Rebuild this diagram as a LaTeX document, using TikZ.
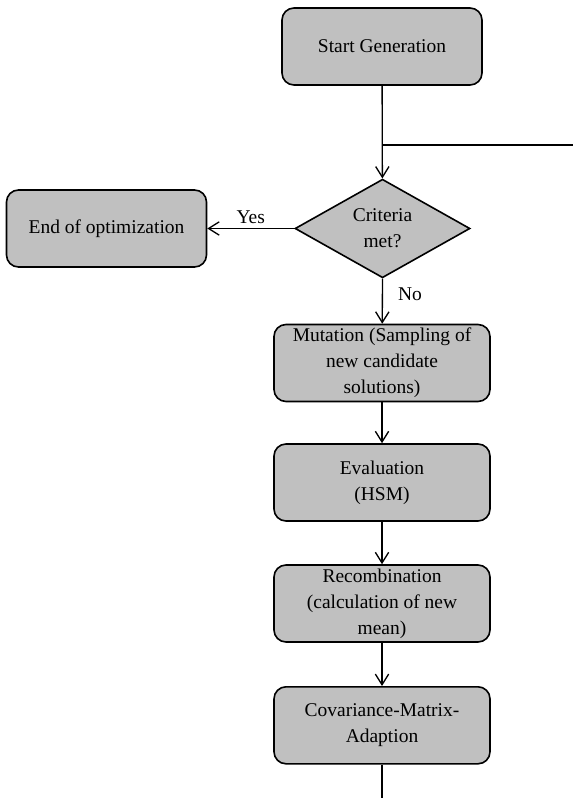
\documentclass[tikz,border=0pt]{standalone}
\usepackage{fontspec}
\setmainfont{Liberation Serif}
\usepackage{tikz}
\usetikzlibrary{shapes.geometric,arrows.meta}
\definecolor{boxgray}{RGB}{192,192,192}

\begin{document}
\begin{tikzpicture}[x=0.75pt, y=-0.75pt, >={Straight Barb[length=8pt,width=10pt]},
		font=\fontsize{14.6}{19.5}\selectfont,
		stepbox/.style={draw, line width=1.2pt, fill=boxgray, rounded corners=9pt, align=center,
			inner sep=0pt, minimum width=150pt, minimum height=57.75pt},
		widebox/.style={stepbox, minimum width=162pt},
		decide/.style={draw, line width=1.2pt, fill=boxgray, diamond, align=center, inner sep=0pt,
			minimum width=131.25pt, minimum height=72pt},
		flow/.style={->, line width=1pt}]
		\useasboundingbox (0,0) rectangle (573,798);
		% boxes
		\node[stepbox] (start) at (382,46.5) {Start Generation};
		\node[decide] (crit) at (382.5,228.5) {Criteria\\met?};
		\node[stepbox] (end) at (106.5,228.5) {End of optimization};
		\node[widebox] (mut) at (382,363) {Mutation (Sampling of\\new candidate\\solutions)};
		\node[widebox] (eval) at (382,482.5) {Evaluation\\(HSM)};
		\node[widebox] (recomb) at (382,603.5) {Recombination\\(calculation of new\\mean)};
		\node[widebox] (cma) at (382,725.3) {Covariance-Matrix-\\Adaption};
		% loop back from the right edge
		\coordinate (join) at (382,145);
		\coordinate (loopin) at (573,145);
		\coordinate (loopout) at (382,798);
		% connectors
		\draw[flow] (start) -- (crit);
		\draw[line width=1pt] (loopin) -- (join);
		\draw[flow] (crit.west) -- (end) node[pos=0.5, above] (yes) {Yes};
		\draw[flow] (crit.south) -- (mut) node[pos=0.35, right=8pt] (no) {No};
		\draw[flow] (mut) -- (eval);
		\draw[flow] (eval) -- (recomb);
		\draw[flow] (recomb) -- (cma);
		\draw[line width=1pt] (cma) -- (loopout);
	\end{tikzpicture}
\end{document}
